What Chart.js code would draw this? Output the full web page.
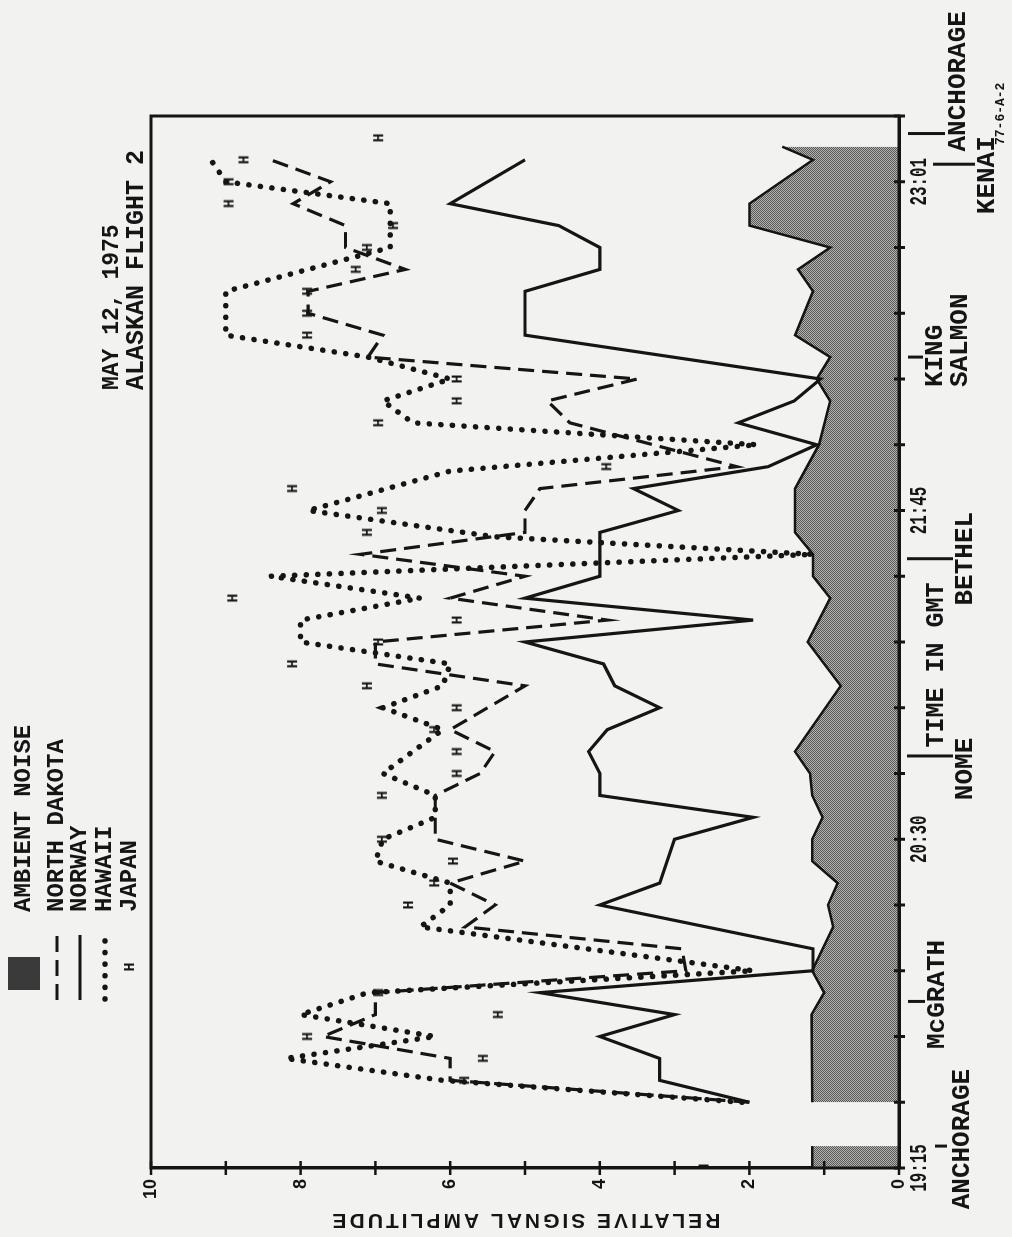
<!DOCTYPE html>
<html>
<head>
<meta charset="utf-8">
<title>May 12, 1975 - Alaskan Flight 2</title>
<script src="https://cdn.jsdelivr.net/npm/chart.js@4.4.1/dist/chart.umd.min.js"></script>
<style>
  html, body { margin: 0; padding: 0; background: #f2f2f0; }
  body { width: 1012px; height: 1237px; overflow: hidden; position: relative; }
  /* the sheet is a landscape figure printed sideways */
  #sheet {
    position: absolute; left: 0; top: 0;
    width: 1237px; height: 1012px;
    transform-origin: 0 0;
    transform: translate(0, 1237px) rotate(-90deg);
  }
</style>
</head>
<body>
<div id="sheet"><canvas id="grafico" width="1237" height="1012"></canvas></div>
<script>
// ---- data (time in GMT, relative signal amplitude) ----
const noiseTime = ['19:15','19:20','19:25','19:30','19:50','19:55','20:00','20:10','20:15','20:20','20:25','20:30','20:35','20:40','20:45','20:50','21:05','21:15','21:25','21:30','21:35','21:40','21:50','22:00','22:10','22:15','22:20','22:25','22:35','22:40','22:45','22:50','22:55','23:05','23:08'];
const noiseAmp = [1.16,1.16,null,1.16,1.17,1.0,1.16,0.88,0.95,0.82,1.16,1.16,1.02,1.16,1.19,1.39,0.78,1.22,0.92,1.15,1.15,1.39,1.39,1.07,0.92,1.1,0.92,1.39,1.15,1.35,0.92,2.0,2.0,1.15,1.56];

const dakotaTime = ['19:30','19:35','19:40','19:45','19:50','19:55','20:00','20:05','20:10','20:15','20:20','20:25','20:30','20:40','20:45','20:50','20:55','21:05','21:10','21:15','21:20','21:25','21:30','21:35','21:40','21:45','21:50','21:55','22:05','22:10','22:15','22:20','22:25','22:30','22:35','22:40','22:45','22:50','22:55','23:00','23:05'];
const dakotaAmp = [2.0,6.0,6.0,7.7,7.0,7.0,2.85,2.9,5.8,5.4,6.0,5.0,6.2,6.2,5.6,5.4,6.0,5.0,7.0,7.0,3.9,6.0,5.0,7.2,5.0,5.0,4.8,2.17,4.4,4.7,3.5,7.1,6.9,7.9,7.9,6.6,7.4,7.4,8.1,7.6,8.4];

const norwayTime = ['19:30','19:35','19:40','19:45','19:50','19:55','20:00','20:05','20:15','20:20','20:30','20:35','20:40','20:45','20:50','20:55','21:00','21:05','21:10','21:15','21:20','21:25','21:30','21:40','21:45','21:50','21:55','22:00','22:05','22:10','22:15','22:25','22:35','22:40','22:45','22:50','22:55','23:05'];
const norwayAmp = [2.0,3.2,3.2,4.0,3.0,4.8,1.15,1.15,4.0,3.2,3.0,1.95,4.0,4.0,4.15,3.9,3.2,3.8,3.95,5.0,1.95,5.0,4.0,4.0,2.95,3.55,1.75,1.1,2.15,1.4,1.05,5.0,5.0,4.0,4.0,4.55,6.0,5.0];

const hawaiiTime = ['19:30','19:35','19:40','19:45','19:50','19:55','20:00','20:10','20:15','20:20','20:25','20:30','20:35','20:40','20:45','20:55','21:00','21:05','21:10','21:15','21:20','21:25','21:30','21:35','21:39','21:45','21:54','22:00','22:05','22:10','22:15','22:20','22:25','22:35','22:45','22:55','23:00','23:05'];
const hawaiiAmp = [2.1,6.1,8.2,6.2,8.0,7.1,1.95,6.4,6.0,6.0,7.0,6.9,6.2,6.2,6.9,6.1,6.9,6.1,6.0,8.0,8.0,6.4,8.4,1.15,5.4,7.9,6.0,1.9,6.5,6.9,6.0,7.1,9.0,9.0,6.8,6.8,9.0,9.2];

const japanTime = ['19:15','19:35','19:40','19:45','19:50','19:55','20:15','20:20','20:25','20:30','20:40','20:45','20:50','20:55','21:00','21:05','21:10','21:15','21:20','21:25','21:40','21:45','21:50','21:55','22:05','22:10','22:15','22:25','22:30','22:35','22:40','22:45','22:50','22:55','23:00','23:05','23:10'];
const japanAmp = [2.6,5.8,5.55,7.9,5.35,6.95,6.55,6.2,5.95,6.9,6.9,5.9,5.9,6.2,5.9,7.1,8.1,6.95,5.9,8.9,7.1,6.9,8.1,3.9,6.95,5.9,5.9,7.9,7.9,7.9,7.25,7.1,6.75,8.95,8.95,8.75,6.95];

const ampLabels = [0, 2, 4, 6, 8, 10];
const timeTickAt = ['19:15', '20:30', '21:45', '23:00'];
const timeTickText = ['19:15', '20:30', '21:45', '23:01'];
const stationNames = ['ANCHORAGE', 'McGRATH', 'NOME', 'BETHEL', 'KING\nSALMON', 'KENAI', 'ANCHORAGE'];
const stationTimes = ['19:20', '19:53', '20:49', '21:34', '22:20', '23:04', '23:11'];
const legendNames = ['AMBIENT NOISE', 'NORTH DAKOTA', 'NORWAY', 'HAWAII', 'JAPAN'];

// ---- helpers ----
const ink = '#151515';
const mono = '"Liberation Mono", "DejaVu Sans Mono", monospace';

function toMin(clock) {
  const [h, m] = clock.split(':').map(Number);
  return h * 60 + m - (19 * 60 + 15);
}

function toPoints(times, amps) {
  return times.map((t, i) => ({ x: toMin(t), y: amps[i] }));
}

const canvasElement = document.getElementById('grafico');
const mainCtx = canvasElement.getContext('2d');

// halftone screen for the noise floor
const tile = document.createElement('canvas');
tile.width = 2;
tile.height = 2;
const tileCtx = tile.getContext('2d');
tileCtx.fillStyle = '#b4b4b1';
tileCtx.fillRect(0, 0, 2, 2);
tileCtx.fillStyle = '#585858';
tileCtx.fillRect(0, 0, 1, 1);
tileCtx.fillRect(1, 1, 1, 1);
const noiseScreen = mainCtx.createPattern(tile, 'repeat');

// typed "H" used for the Japan readings
const hMark = document.createElement('canvas');
hMark.width = 14;
hMark.height = 16;
const hCtx = hMark.getContext('2d');
hCtx.fillStyle = ink;
hCtx.font = 'bold 15px ' + mono;
hCtx.textAlign = 'center';
hCtx.textBaseline = 'middle';
hCtx.fillText('H', 7, 8.5);

function typeText(ctx, text, x, y, size, align, squeeze, spacing) {
  ctx.save();
  ctx.fillStyle = ink;
  ctx.font = 'bold ' + size + 'px ' + mono;
  ctx.textBaseline = 'middle';
  ctx.textAlign = align;
  ctx.letterSpacing = (spacing || 0) + 'px';
  ctx.translate(x, y);
  ctx.scale(squeeze || 1, 1);
  ctx.fillText(text, 0, 0);
  ctx.restore();
}

function stroke(ctx, x1, y1, x2, y2) {
  ctx.beginPath();
  ctx.moveTo(x1, y1);
  ctx.lineTo(x2, y2);
  ctx.stroke();
}

// where each station name sits under the time axis
const stationLayout = [
  { tick: [935, 947], align: 'center', du: 7, rows: [962] },
  { tick: [908, 925], align: 'center', du: 7, rows: [937] },
  { tick: [907, 953], align: 'center', du: -13, rows: [965] },
  { tick: [907, 953], align: 'center', du: 0, rows: [965] },
  { tick: [908, 923], align: 'left', du: -30, rows: [935, 960] },
  { tick: [933, 975], align: 'center', du: -11, rows: [987] },
  { tick: [908, 945], align: 'left', du: -18, rows: [958] },
];

const paperDecor = {
  id: 'paperDecor',
  beforeDraw(chart) {
    const { ctx, width, height } = chart;
    ctx.save();
    ctx.fillStyle = '#f2f2f0';
    ctx.fillRect(0, 0, width, height);
    ctx.restore();
  },
  afterDraw(chart) {
    const { ctx, chartArea: area } = chart;
    const x = chart.scales.x;
    const y = chart.scales.y;

    ctx.save();
    ctx.strokeStyle = ink;
    ctx.lineWidth = 3;
    ctx.strokeRect(area.left, area.top, area.right - area.left, area.bottom - area.top);

    // quarter-hour marks across the time axis
    for (let m = 0; m <= 240; m += 15) {
      const px = x.getPixelForValue(m);
      stroke(ctx, px, area.bottom - 5, px, area.bottom + 6);
    }
    // unit marks across the amplitude axis
    ctx.lineWidth = 2.5;
    for (let v = 0; v <= 10; v++) {
      const py = y.getPixelForValue(v);
      stroke(ctx, area.left - 7, py, area.left + 7, py);
    }

    // time labels
    timeTickAt.forEach((t, i) => {
      typeText(ctx, timeTickText[i], x.getPixelForValue(toMin(t)), 920, 24, 'center', 0.66);
    });

    // stations along the flight path
    ctx.lineWidth = 3;
    stationNames.forEach((name, i) => {
      const lay = stationLayout[i];
      const px = x.getPixelForValue(toMin(stationTimes[i]));
      stroke(ctx, px, lay.tick[0], px, lay.tick[1]);
      name.split('\n').forEach((row, r) => {
        typeText(ctx, row, px + lay.du, lay.rows[r], 26, lay.align);
      });
    });

    typeText(ctx, 'TIME IN GMT', 572, 937, 25, 'center');

    // amplitude title
    ctx.save();
    ctx.fillStyle = ink;
    ctx.font = 'bold 21px "Liberation Sans", Arial, sans-serif';
    ctx.letterSpacing = '3px';
    ctx.textAlign = 'center';
    ctx.textBaseline = 'middle';
    ctx.translate(17, (area.top + area.bottom) / 2);
    ctx.rotate(-Math.PI / 2);
    ctx.fillText('RELATIVE SIGNAL AMPLITUDE', 0, 0);
    ctx.restore();

    // flight caption, above the plot on the right
    typeText(ctx, 'MAY 12, 1975', 847, 112, 23, 'left');
    typeText(ctx, 'ALASKAN FLIGHT 2', 847, 137, 25, 'left');
    typeText(ctx, '77-6-A-2', 1092, 1001, 13, 'left');

    // key
    const rowsV = [24, 57, 80, 105, 130];
    ctx.fillStyle = '#3a3a3a';
    ctx.fillRect(247, 8, 33, 32);
    ctx.strokeStyle = ink;
    ctx.lineWidth = 3;
    ctx.setLineDash([16, 8]);
    stroke(ctx, 237, rowsV[1], 302, rowsV[1]);
    ctx.setLineDash([]);
    stroke(ctx, 237, rowsV[2], 302, rowsV[2]);
    ctx.lineWidth = 5.5;
    ctx.lineCap = 'round';
    ctx.setLineDash([0.1, 11.5]);
    stroke(ctx, 238, rowsV[3], 302, rowsV[3]);
    ctx.setLineDash([]);
    ctx.drawImage(hMark, 263, rowsV[4] - 8);
    legendNames.forEach((name, i) => typeText(ctx, name, 325, rowsV[i], 24, 'left'));

    ctx.restore();
  },
};

new Chart(canvasElement, {
  type: 'line',
  data: {
    datasets: [
      {
        label: 'JAPAN',
        data: toPoints(japanTime, japanAmp),
        showLine: false,
        pointStyle: hMark,
        pointRadius: 7,
      },
      {
        label: 'HAWAII',
        data: toPoints(hawaiiTime, hawaiiAmp),
        borderColor: ink,
        borderWidth: 5.5,
        borderDash: [0.1, 11.5],
        borderCapStyle: 'round',
        pointRadius: 0,
        tension: 0,
      },
      {
        label: 'NORWAY',
        data: toPoints(norwayTime, norwayAmp),
        borderColor: ink,
        borderWidth: 3.2,
        pointRadius: 0,
        tension: 0,
      },
      {
        label: 'NORTH DAKOTA',
        data: toPoints(dakotaTime, dakotaAmp),
        borderColor: ink,
        borderWidth: 3.2,
        borderDash: [16, 8],
        pointRadius: 0,
        tension: 0,
      },
      {
        label: 'AMBIENT NOISE',
        data: toPoints(noiseTime, noiseAmp),
        borderColor: ink,
        borderWidth: 2.5,
        backgroundColor: noiseScreen,
        fill: 'origin',
        spanGaps: false,
        pointRadius: 0,
        tension: 0,
      },
    ],
  },
  options: {
    responsive: false,
    animation: false,
    layout: { padding: { left: 0, right: 116, top: 151, bottom: 0 } },
    plugins: {
      legend: { display: false },
      tooltip: { enabled: false },
    },
    scales: {
      x: {
        type: 'linear',
        min: 0,
        max: 240,
        afterBuildTicks: (axis) => {
          const marks = [];
          for (let m = 0; m <= 240; m += 15) marks.push({ value: m });
          axis.ticks = marks;
        },
        afterFit: (axis) => { axis.height = 113; },
        ticks: { display: false },
        grid: { drawOnChartArea: false, drawTicks: false },
        border: { display: true, color: ink, width: 3 },
      },
      y: {
        type: 'linear',
        min: 0,
        max: 10,
        afterFit: (axis) => { axis.width = 69; },
        ticks: {
          stepSize: 1,
          padding: 11,
          color: ink,
          font: { family: '"Liberation Sans", Arial, sans-serif', size: 18, weight: 'bold' },
          callback: (value) => (ampLabels.includes(value) ? String(value) : ''),
        },
        grid: { drawOnChartArea: false, drawTicks: false },
        border: { display: true, color: ink, width: 3 },
      },
    },
  },
  plugins: [paperDecor],
});
</script>
</body>
</html>
